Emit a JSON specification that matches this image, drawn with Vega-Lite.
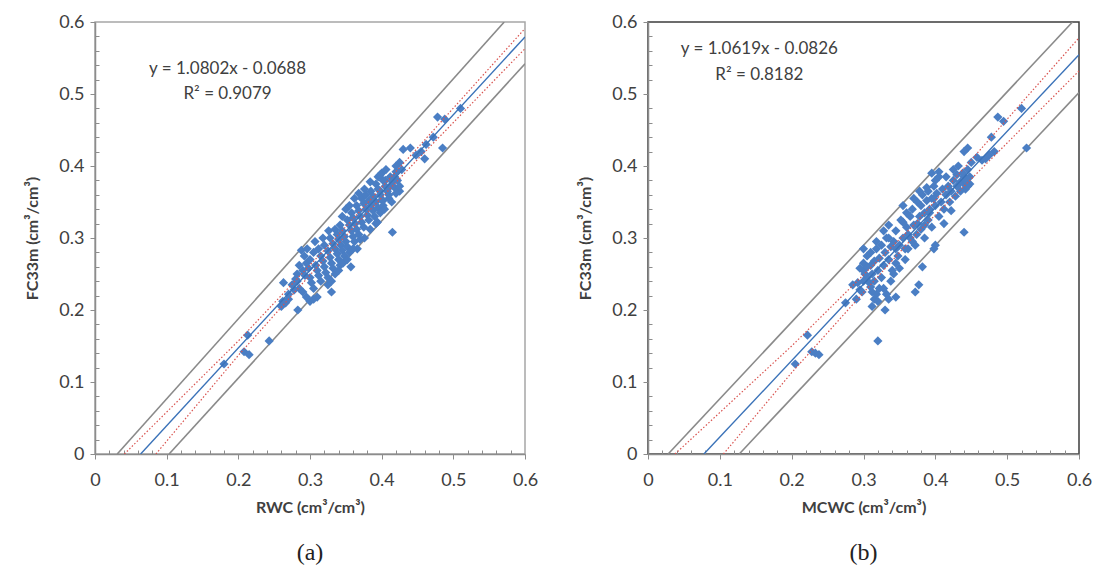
{
  "$schema": "https://vega.github.io/schema/vega-lite/v6.json",
  "padding": {"left": 24, "top": 12, "right": 4, "bottom": 4},
  "background": "white",
  "spacing": 38,
  "config": {
    "font": "Lato",
    "view": {"strokeWidth": 1.5},
    "axis": {
      "grid": false,
      "domainColor": "#8c8c8c",
      "domainWidth": 1.5,
      "tickColor": "#8c8c8c",
      "tickWidth": 1,
      "labelFont": "Lato",
      "labelFontSize": 18,
      "labelColor": "#404040",
      "titleFont": "Lato",
      "titleFontSize": 16,
      "titleFontWeight": "bold",
      "titleColor": "#404040",
      "labelFlush": false,
      "labelOverlap": false,
      "labelBound": false
    },
    "title": {"font": "Liberation Serif", "fontSize": 24, "fontWeight": "normal", "color": "#222", "orient": "bottom", "anchor": "middle", "offset": 26}
  },
  "datasets": {
    "ptsA": [
      {"x":0.180,"y":0.125},{"x":0.213,"y":0.165},{"x":0.208,"y":0.142},{"x":0.215,"y":0.138},{"x":0.243,"y":0.157},
      {"x":0.263,"y":0.238},{"x":0.262,"y":0.212},{"x":0.260,"y":0.205},{"x":0.266,"y":0.210},{"x":0.270,"y":0.215},
      {"x":0.283,"y":0.200},{"x":0.282,"y":0.240},{"x":0.285,"y":0.230},{"x":0.290,"y":0.225},{"x":0.295,"y":0.218},
      {"x":0.300,"y":0.212},{"x":0.305,"y":0.215},{"x":0.310,"y":0.218},{"x":0.325,"y":0.235},{"x":0.330,"y":0.225},
      {"x":0.357,"y":0.260},{"x":0.366,"y":0.285},{"x":0.392,"y":0.320},{"x":0.415,"y":0.308},{"x":0.485,"y":0.425},
      {"x":0.510,"y":0.480},{"x":0.488,"y":0.465},{"x":0.478,"y":0.468},{"x":0.472,"y":0.440},{"x":0.462,"y":0.430},
      {"x":0.455,"y":0.420},{"x":0.460,"y":0.410},{"x":0.448,"y":0.415},{"x":0.440,"y":0.425},{"x":0.430,"y":0.423},
      {"x":0.425,"y":0.405},{"x":0.420,"y":0.400},{"x":0.418,"y":0.385},{"x":0.425,"y":0.365},{"x":0.412,"y":0.372},
      {"x":0.405,"y":0.380},{"x":0.400,"y":0.390},{"x":0.395,"y":0.385},{"x":0.398,"y":0.365},{"x":0.402,"y":0.352},
      {"x":0.410,"y":0.360},
      {"x":0.288,"y":0.283},{"x":0.292,"y":0.275},{"x":0.295,"y":0.265},{"x":0.298,"y":0.258},{"x":0.290,"y":0.255},
      {"x":0.293,"y":0.248},{"x":0.300,"y":0.245},{"x":0.302,"y":0.238},{"x":0.305,"y":0.230},{"x":0.300,"y":0.270},
      {"x":0.305,"y":0.280},{"x":0.308,"y":0.262},{"x":0.310,"y":0.255},{"x":0.312,"y":0.248},{"x":0.315,"y":0.240},
      {"x":0.312,"y":0.285},{"x":0.315,"y":0.275},{"x":0.318,"y":0.268},{"x":0.320,"y":0.260},
      {"x":0.322,"y":0.252},{"x":0.325,"y":0.245},{"x":0.320,"y":0.290},{"x":0.325,"y":0.282},{"x":0.328,"y":0.273},
      {"x":0.330,"y":0.265},{"x":0.332,"y":0.258},{"x":0.335,"y":0.250},{"x":0.328,"y":0.300},{"x":0.332,"y":0.292},
      {"x":0.335,"y":0.285},{"x":0.338,"y":0.278},{"x":0.340,"y":0.270},{"x":0.342,"y":0.262},{"x":0.335,"y":0.312},
      {"x":0.338,"y":0.305},{"x":0.340,"y":0.298},{"x":0.343,"y":0.290},{"x":0.345,"y":0.283},{"x":0.348,"y":0.275},
      {"x":0.342,"y":0.318},{"x":0.345,"y":0.310},{"x":0.348,"y":0.302},{"x":0.350,"y":0.295},{"x":0.352,"y":0.288},
      {"x":0.355,"y":0.280},{"x":0.350,"y":0.340},{"x":0.352,"y":0.325},{"x":0.355,"y":0.318},{"x":0.358,"y":0.310},
      {"x":0.360,"y":0.302},{"x":0.362,"y":0.295},{"x":0.358,"y":0.335},{"x":0.360,"y":0.328},{"x":0.363,"y":0.320},
      {"x":0.365,"y":0.312},{"x":0.368,"y":0.305},{"x":0.365,"y":0.345},{"x":0.368,"y":0.338},{"x":0.370,"y":0.330},
      {"x":0.372,"y":0.322},{"x":0.375,"y":0.315},{"x":0.372,"y":0.355},{"x":0.375,"y":0.348},{"x":0.378,"y":0.340},
      {"x":0.380,"y":0.332},{"x":0.382,"y":0.325},{"x":0.378,"y":0.360},{"x":0.382,"y":0.352},{"x":0.385,"y":0.345},
      {"x":0.388,"y":0.338},{"x":0.390,"y":0.330},{"x":0.385,"y":0.365},{"x":0.388,"y":0.358},{"x":0.392,"y":0.350},
      {"x":0.395,"y":0.342},{"x":0.398,"y":0.335},{"x":0.392,"y":0.375},{"x":0.395,"y":0.368},{"x":0.398,"y":0.360},
      {"x":0.400,"y":0.353},{"x":0.402,"y":0.345},{"x":0.398,"y":0.388},{"x":0.402,"y":0.380},{"x":0.405,"y":0.372},
      {"x":0.408,"y":0.365},{"x":0.410,"y":0.355},{"x":0.412,"y":0.385},{"x":0.415,"y":0.378},{"x":0.418,"y":0.370},
      {"x":0.420,"y":0.392},{"x":0.422,"y":0.380},{"x":0.425,"y":0.372},{"x":0.428,"y":0.395},{"x":0.270,"y":0.222},
      {"x":0.275,"y":0.235},{"x":0.278,"y":0.228},{"x":0.285,"y":0.262},{"x":0.282,"y":0.250},{"x":0.280,"y":0.243},
      {"x":0.296,"y":0.285},{"x":0.307,"y":0.295},{"x":0.318,"y":0.300},{"x":0.326,"y":0.310},{"x":0.345,"y":0.330},
      {"x":0.355,"y":0.345},{"x":0.362,"y":0.355},{"x":0.368,"y":0.362},{"x":0.376,"y":0.368},{"x":0.384,"y":0.378},
      {"x":0.406,"y":0.395},{"x":0.346,"y":0.265},{"x":0.352,"y":0.270},{"x":0.360,"y":0.285},{"x":0.370,"y":0.298},
      {"x":0.376,"y":0.300},{"x":0.384,"y":0.312},{"x":0.394,"y":0.322},{"x":0.404,"y":0.340},{"x":0.414,"y":0.350},
      {"x":0.420,"y":0.362},{"x":0.330,"y":0.240},{"x":0.340,"y":0.255}
    ],
    "ptsB": [
      {"x":0.205,"y":0.125},{"x":0.222,"y":0.165},{"x":0.228,"y":0.142},{"x":0.233,"y":0.140},{"x":0.238,"y":0.138},
      {"x":0.320,"y":0.157},{"x":0.275,"y":0.210},{"x":0.285,"y":0.235},{"x":0.290,"y":0.215},{"x":0.292,"y":0.238},
      {"x":0.295,"y":0.228},{"x":0.300,"y":0.285},{"x":0.300,"y":0.255},{"x":0.305,"y":0.245},{"x":0.310,"y":0.232},
      {"x":0.312,"y":0.205},{"x":0.315,"y":0.215},{"x":0.318,"y":0.222},{"x":0.322,"y":0.230},{"x":0.330,"y":0.200},
      {"x":0.335,"y":0.215},{"x":0.345,"y":0.218},{"x":0.342,"y":0.250},{"x":0.372,"y":0.225},{"x":0.377,"y":0.235},
      {"x":0.382,"y":0.260},{"x":0.440,"y":0.308},{"x":0.400,"y":0.290},{"x":0.398,"y":0.285},{"x":0.412,"y":0.320},
      {"x":0.422,"y":0.338},{"x":0.520,"y":0.480},{"x":0.527,"y":0.425},{"x":0.487,"y":0.468},{"x":0.495,"y":0.462},
      {"x":0.478,"y":0.440},{"x":0.475,"y":0.415},{"x":0.482,"y":0.420},{"x":0.470,"y":0.410},{"x":0.465,"y":0.408},
      {"x":0.458,"y":0.412},{"x":0.445,"y":0.425},{"x":0.440,"y":0.420},{"x":0.450,"y":0.405},{"x":0.445,"y":0.395},
      {"x":0.440,"y":0.385},{"x":0.448,"y":0.375},{"x":0.442,"y":0.368},{"x":0.435,"y":0.378},{"x":0.430,"y":0.388},
      {"x":0.425,"y":0.395},{"x":0.415,"y":0.385},{"x":0.405,"y":0.392},{"x":0.400,"y":0.380},
      {"x":0.305,"y":0.275},{"x":0.310,"y":0.262},{"x":0.312,"y":0.250},{"x":0.315,"y":0.268},{"x":0.318,"y":0.285},
      {"x":0.320,"y":0.255},{"x":0.322,"y":0.272},{"x":0.325,"y":0.290},{"x":0.328,"y":0.262},{"x":0.330,"y":0.280},
      {"x":0.332,"y":0.300},{"x":0.335,"y":0.318},{"x":0.335,"y":0.270},{"x":0.338,"y":0.288},{"x":0.340,"y":0.255},
      {"x":0.342,"y":0.295},{"x":0.345,"y":0.310},{"x":0.348,"y":0.275},{"x":0.350,"y":0.290},{"x":0.352,"y":0.325},
      {"x":0.355,"y":0.345},{"x":0.355,"y":0.300},{"x":0.358,"y":0.270},{"x":0.360,"y":0.315},{"x":0.362,"y":0.285},
      {"x":0.365,"y":0.330},{"x":0.365,"y":0.300},{"x":0.368,"y":0.340},{"x":0.370,"y":0.318},{"x":0.372,"y":0.290},
      {"x":0.374,"y":0.305},{"x":0.375,"y":0.350},{"x":0.378,"y":0.330},{"x":0.380,"y":0.312},{"x":0.380,"y":0.345},
      {"x":0.382,"y":0.360},{"x":0.385,"y":0.335},{"x":0.385,"y":0.300},{"x":0.388,"y":0.352},{"x":0.390,"y":0.325},
      {"x":0.390,"y":0.365},{"x":0.392,"y":0.340},{"x":0.395,"y":0.355},{"x":0.395,"y":0.315},{"x":0.398,"y":0.372},
      {"x":0.400,"y":0.345},{"x":0.402,"y":0.362},{"x":0.405,"y":0.330},{"x":0.405,"y":0.385},{"x":0.408,"y":0.350},
      {"x":0.410,"y":0.368},{"x":0.412,"y":0.340},{"x":0.415,"y":0.360},{"x":0.418,"y":0.372},{"x":0.420,"y":0.350},
      {"x":0.422,"y":0.365},{"x":0.425,"y":0.380},{"x":0.428,"y":0.358},{"x":0.430,"y":0.372},{"x":0.432,"y":0.400},
      {"x":0.435,"y":0.365},{"x":0.438,"y":0.390},{"x":0.440,"y":0.375},{"x":0.442,"y":0.380},{"x":0.445,"y":0.372},
      {"x":0.448,"y":0.385},{"x":0.300,"y":0.265},{"x":0.295,"y":0.258},{"x":0.305,"y":0.260},{"x":0.302,"y":0.250},
      {"x":0.308,"y":0.238},{"x":0.315,"y":0.240},{"x":0.325,"y":0.245},{"x":0.328,"y":0.230},{"x":0.312,"y":0.225},
      {"x":0.320,"y":0.212},{"x":0.332,"y":0.222},{"x":0.338,"y":0.240},{"x":0.345,"y":0.265},{"x":0.350,"y":0.258},
      {"x":0.358,"y":0.285},{"x":0.362,"y":0.305},{"x":0.368,"y":0.295},{"x":0.375,"y":0.320},{"x":0.385,"y":0.318},
      {"x":0.392,"y":0.335},{"x":0.398,"y":0.355},{"x":0.360,"y":0.335},{"x":0.370,"y":0.355},{"x":0.378,"y":0.365},
      {"x":0.388,"y":0.370},{"x":0.395,"y":0.390},{"x":0.355,"y":0.322},{"x":0.345,"y":0.285},{"x":0.335,"y":0.300},
      {"x":0.328,"y":0.310},{"x":0.318,"y":0.295},{"x":0.310,"y":0.280},{"x":0.300,"y":0.240},{"x":0.298,"y":0.225}
    ],
    "linesA": [
      {"line":"gU","x":0.031,"y":0.0},{"line":"gU","x":0.571,"y":0.6},
      {"line":"gL","x":0.1034,"y":0.0},{"line":"gL","x":0.6,"y":0.542},
      {"line":"reg","x":0.0637,"y":0.0},{"line":"reg","x":0.6,"y":0.5793},
      {"line":"rU","x":0.041,"y":0.0},{"line":"rU","x":0.2,"y":0.157},{"line":"rU","x":0.33,"y":0.294},{"line":"rU","x":0.45,"y":0.425},{"line":"rU","x":0.6,"y":0.591},
      {"line":"rL","x":0.085,"y":0.0},{"line":"rL","x":0.2,"y":0.137},{"line":"rL","x":0.33,"y":0.282},{"line":"rL","x":0.45,"y":0.409},{"line":"rL","x":0.6,"y":0.563}
    ],
    "linesB": [
      {"line":"gU","x":0.028,"y":0.0},{"line":"gU","x":0.591,"y":0.6},
      {"line":"gL","x":0.127,"y":0.0},{"line":"gL","x":0.6,"y":0.502},
      {"line":"reg","x":0.0778,"y":0.0},{"line":"reg","x":0.6,"y":0.5545},
      {"line":"rU","x":0.0376,"y":0.0},{"line":"rU","x":0.2,"y":0.150},{"line":"rU","x":0.37,"y":0.318},{"line":"rU","x":0.6,"y":0.578},
      {"line":"rL","x":0.105,"y":0.0},{"line":"rL","x":0.2,"y":0.113},{"line":"rL","x":0.37,"y":0.302},{"line":"rL","x":0.6,"y":0.532}
    ],
    "textA": [
      {"x":0.185,"y":0.535,"t":"y = 1.0802x - 0.0688"},
      {"x":0.185,"y":0.500,"t":"R² = 0.9079"}
    ],
    "textB": [
      {"x":0.155,"y":0.562,"t":"y = 1.0619x - 0.0826"},
      {"x":0.155,"y":0.527,"t":"R² = 0.8182"}
    ]
  },
  "hconcat": [
    {
      "width": 430,
      "height": 432,
      "title": {"text": "(a)"},
      "view": {"stroke": "#a6a6a6"},
      "encoding": {
        "x": {"field": "x", "type": "quantitative", "scale": {"domain": [0, 0.6], "nice": false, "zero": false},
          "axis": {"title": "RWC (cm³/cm³)", "titlePadding": 10,
            "values": [0,0.02,0.04,0.06,0.08,0.1,0.12,0.14,0.16,0.18,0.2,0.22,0.24,0.26,0.28,0.3,0.32,0.34,0.36,0.38,0.4,0.42,0.44,0.46,0.48,0.5,0.52,0.54,0.56,0.58,0.6],
            "labelExpr": "abs(datum.value*10 - round(datum.value*10)) < 0.01 ? format(datum.value, '.1~f') : ''",
            "tickSize": {"condition": {"test": "abs(datum.value*10 - round(datum.value*10)) < 0.01", "value": 5}, "value": -4},
            "labelPadding": 12}},
        "y": {"field": "y", "type": "quantitative", "scale": {"domain": [0, 0.6], "nice": false, "zero": false},
          "axis": {"title": "FC33m (cm³/cm³)", "titlePadding": 18,
            "values": [0,0.02,0.04,0.06,0.08,0.1,0.12,0.14,0.16,0.18,0.2,0.22,0.24,0.26,0.28,0.3,0.32,0.34,0.36,0.38,0.4,0.42,0.44,0.46,0.48,0.5,0.52,0.54,0.56,0.58,0.6],
            "labelExpr": "abs(datum.value*10 - round(datum.value*10)) < 0.01 ? format(datum.value, '.1~f') : ''",
            "tickSize": {"condition": {"test": "abs(datum.value*10 - round(datum.value*10)) < 0.01", "value": 5}, "value": -4},
            "labelPadding": 6}}
      },
      "layer": [
        {"data": {"name": "linesA"}, "transform": [{"filter": "datum.line == 'gU' || datum.line == 'gL'"}],
          "mark": {"type": "line", "color": "#8a8a8a", "strokeWidth": 1.6, "clip": true},
          "encoding": {"detail": {"field": "line"}}},
        {"data": {"name": "ptsA"},
          "mark": {"type": "point", "shape": "diamond", "filled": true, "color": "#4a7ec4", "size": 85, "opacity": 1}},
        {"data": {"name": "linesA"}, "transform": [{"filter": "datum.line == 'rU' || datum.line == 'rL'"}],
          "mark": {"type": "line", "color": "#d9534f", "strokeWidth": 1.2, "strokeDash": [1.5, 2], "clip": true},
          "encoding": {"detail": {"field": "line"}}},
        {"data": {"name": "linesA"}, "transform": [{"filter": "datum.line == 'reg'"}],
          "mark": {"type": "line", "color": "#3a72b8", "strokeWidth": 1.4, "clip": true},
          "encoding": {}},
        {"data": {"name": "textA"},
          "mark": {"type": "text", "font": "Lato", "fontSize": 17, "color": "#404040", "align": "center", "baseline": "middle"},
          "encoding": {"text": {"field": "t"}}}
      ]
    },
    {
      "width": 431,
      "height": 432,
      "title": {"text": "(b)"},
      "view": {"stroke": "#3c3c3c"},
      "encoding": {
        "x": {"field": "x", "type": "quantitative", "scale": {"domain": [0, 0.6], "nice": false, "zero": false},
          "axis": {"title": "MCWC (cm³/cm³)", "titlePadding": 10,
            "values": [0,0.02,0.04,0.06,0.08,0.1,0.12,0.14,0.16,0.18,0.2,0.22,0.24,0.26,0.28,0.3,0.32,0.34,0.36,0.38,0.4,0.42,0.44,0.46,0.48,0.5,0.52,0.54,0.56,0.58,0.6],
            "labelExpr": "abs(datum.value*10 - round(datum.value*10)) < 0.01 ? format(datum.value, '.1~f') : ''",
            "tickSize": {"condition": {"test": "abs(datum.value*10 - round(datum.value*10)) < 0.01", "value": 5}, "value": -4},
            "labelPadding": 12}},
        "y": {"field": "y", "type": "quantitative", "scale": {"domain": [0, 0.6], "nice": false, "zero": false},
          "axis": {"title": "FC33m (cm³/cm³)", "titlePadding": 18,
            "values": [0,0.02,0.04,0.06,0.08,0.1,0.12,0.14,0.16,0.18,0.2,0.22,0.24,0.26,0.28,0.3,0.32,0.34,0.36,0.38,0.4,0.42,0.44,0.46,0.48,0.5,0.52,0.54,0.56,0.58,0.6],
            "labelExpr": "abs(datum.value*10 - round(datum.value*10)) < 0.01 ? format(datum.value, '.1~f') : ''",
            "tickSize": {"condition": {"test": "abs(datum.value*10 - round(datum.value*10)) < 0.01", "value": 5}, "value": -4},
            "labelPadding": 6}}
      },
      "layer": [
        {"data": {"name": "linesB"}, "transform": [{"filter": "datum.line == 'gU' || datum.line == 'gL'"}],
          "mark": {"type": "line", "color": "#8a8a8a", "strokeWidth": 1.6, "clip": true},
          "encoding": {"detail": {"field": "line"}}},
        {"data": {"name": "ptsB"},
          "mark": {"type": "point", "shape": "diamond", "filled": true, "color": "#4a7ec4", "size": 85, "opacity": 1}},
        {"data": {"name": "linesB"}, "transform": [{"filter": "datum.line == 'rU' || datum.line == 'rL'"}],
          "mark": {"type": "line", "color": "#d9534f", "strokeWidth": 1.2, "strokeDash": [1.5, 2], "clip": true},
          "encoding": {"detail": {"field": "line"}}},
        {"data": {"name": "linesB"}, "transform": [{"filter": "datum.line == 'reg'"}],
          "mark": {"type": "line", "color": "#3a72b8", "strokeWidth": 1.4, "clip": true},
          "encoding": {}},
        {"data": {"name": "textB"},
          "mark": {"type": "text", "font": "Lato", "fontSize": 17, "color": "#404040", "align": "center", "baseline": "middle"},
          "encoding": {"text": {"field": "t"}}}
      ]
    }
  ]
}
